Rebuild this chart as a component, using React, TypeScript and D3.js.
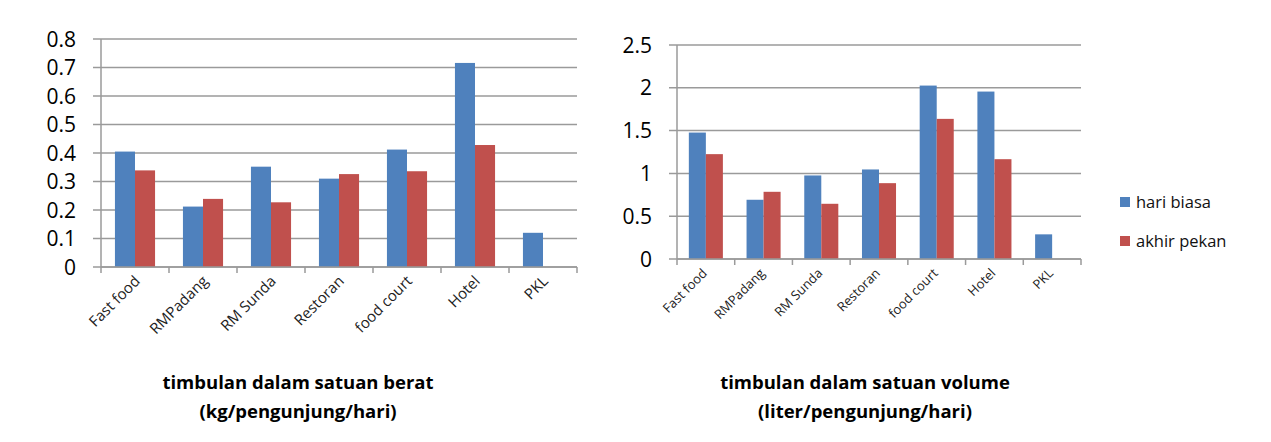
import React from "react";
import * as d3 from "d3";

const categories = ["Fast food", "RMPadang", "RM Sunda", "Restoran", "food court", "Hotel", "PKL"];
const seriesNames = ["hari biasa", "akhir pekan"];
const beratHariBiasa = [0.405, 0.212, 0.352, 0.31, 0.412, 0.716, 0.12];
const beratAkhirPekan: (number | null)[] = [0.339, 0.239, 0.227, 0.326, 0.336, 0.428, null];
const volumeHariBiasa = [1.477, 0.692, 0.976, 1.046, 2.026, 1.956, 0.288];
const volumeAkhirPekan: (number | null)[] = [1.225, 0.785, 0.645, 0.886, 1.637, 1.166, null];
const beratTicks = [0, 0.1, 0.2, 0.3, 0.4, 0.5, 0.6, 0.7, 0.8];
const volumeTicks = [0, 0.5, 1, 1.5, 2, 2.5];
const colors = ["#4F81BD", "#C0504D"];

const FONT = "'Open Sans', 'Liberation Sans', sans-serif";

type PanelProps = {
  x0: number; x1: number; y0: number; y1: number;
  domainMax: number; ticks: number[];
  s1: number[]; s2: (number | null)[];
  tickFont: number; labelFont: number; labelDx: number;
  title: string[]; titleX: number;
};

function Panel(p: PanelProps) {
  const x = d3.scaleBand<string>().domain(categories).range([p.x0, p.x1]).paddingInner(0.41).paddingOuter(0.205);
  const xOuter = d3.scaleBand<string>().domain(categories).range([p.x0, p.x1]);
  const y = d3.scaleLinear().domain([0, p.domainMax]).range([p.y0, p.y1]);
  const bw = x.bandwidth() / 2;
  const grid = "#9a9a9a";
  return (
    <g>
      {p.ticks.map((t) => (
        <g key={"g" + t}>
          <line x1={p.x0 - 8} x2={p.x1} y1={y(t)} y2={y(t)} stroke={grid} strokeWidth={1.5} />
          <text x={p.x0 - 25} y={y(t)} dy="0.36em" textAnchor="end" fontSize={p.tickFont} fontFamily={FONT} fill="#000">
            {String(t)}
          </text>
        </g>
      ))}
      {categories.map((c, i) => (
        <g key={c}>
          <rect x={x(c)!} y={y(p.s1[i])} width={bw} height={p.y0 - y(p.s1[i])} fill={colors[0]} />
          {p.s2[i] != null && (
            <rect x={x(c)! + bw} y={y(p.s2[i] as number)} width={bw} height={p.y0 - y(p.s2[i] as number)} fill={colors[1]} />
          )}
        </g>
      ))}
      <line x1={p.x0} x2={p.x0} y1={p.y0} y2={y(p.domainMax)} stroke={grid} strokeWidth={1.5} />
      <line x1={p.x0} x2={p.x1} y1={p.y0} y2={p.y0} stroke={grid} strokeWidth={1.5} />
      {categories.map((c) => (
        <line key={"t" + c} x1={xOuter(c)!} x2={xOuter(c)!} y1={p.y0} y2={p.y0 + 6} stroke={grid} strokeWidth={1.5} />
      ))}
      <line x1={p.x1} x2={p.x1} y1={p.y0} y2={p.y0 + 6} stroke={grid} strokeWidth={1.5} />
      {categories.map((c) => {
        const cx = xOuter(c)! + xOuter.bandwidth() / 2 + p.labelDx;
        const cy = p.y0 + 15;
        return (
          <text key={"l" + c} x={cx} y={cy} textAnchor="end" fontSize={p.labelFont} fontFamily={FONT} fill="#222"
            transform={`rotate(-45 ${cx} ${cy})`}>
            {c}
          </text>
        );
      })}
      {p.title.map((t, i) => (
        <text key={"ti" + i} x={p.titleX} y={389 + i * 29} textAnchor="middle" fontSize={18.5} fontWeight="bold" fontFamily={FONT} fill="#000">
          {t}
        </text>
      ))}
    </g>
  );
}

export default function App() {
  return (
    <svg width={1271} height={442} style={{ position: "absolute", left: 0, top: 0, background: "#fff" }}>
      <rect width={1271} height={442} fill="#fff" />
      <Panel x0={101} x1={577} y0={267} y1={39} domainMax={0.8} ticks={beratTicks}
        s1={beratHariBiasa} s2={beratAkhirPekan} tickFont={21} labelFont={15} labelDx={6}
        title={["timbulan dalam satuan berat", "(kg/pengunjung/hari)"]} titleX={298} />
      <Panel x0={677} x1={1081} y0={259} y1={45} domainMax={2.5} ticks={volumeTicks}
        s1={volumeHariBiasa} s2={volumeAkhirPekan} tickFont={21} labelFont={13} labelDx={2}
        title={["timbulan dalam satuan volume", "(liter/pengunjung/hari)"]} titleX={865} />
      {seriesNames.map((s, i) => (
        <g key={s}>
          <rect x={1120} y={197 + i * 39} width={10} height={10} fill={colors[i]} />
          <text x={1136} y={208 + i * 39} fontSize={16.5} fontFamily={FONT} fill="#111">{s}</text>
        </g>
      ))}
    </svg>
  );
}
